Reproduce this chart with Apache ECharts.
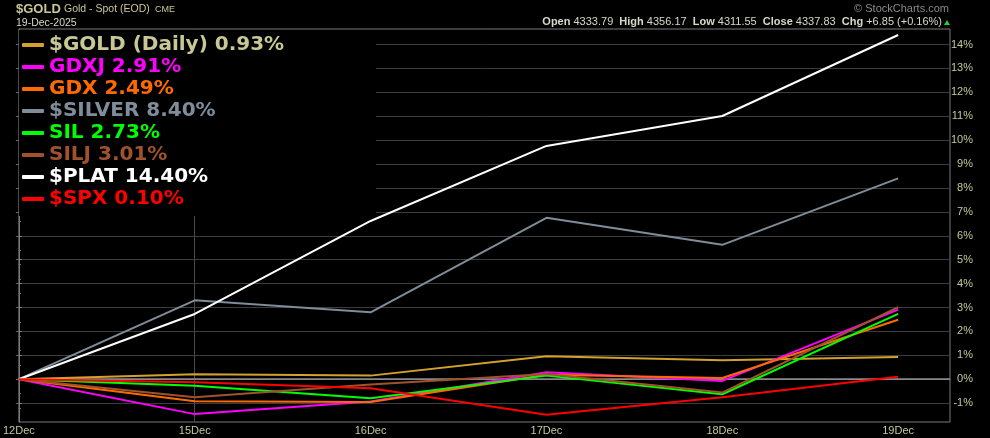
<!DOCTYPE html>
<html>
<head>
<meta charset="utf-8">
<script src="https://cdn.jsdelivr.net/npm/echarts@6/dist/echarts.min.js"></script>
<style>
html,body{margin:0;padding:0;background:#000;}
#chart{width:990px;height:438px;}
</style>
</head>
<body>
<div id="chart"></div>
<script>
const categories = ['12Dec','15Dec','16Dec','17Dec','18Dec','19Dec'];
const seriesNames = ['$GOLD (Daily)','GDXJ','GDX','$SILVER','SIL','SILJ','$PLAT','$SPX'];
const gold   = [0, 0.21, 0.15, 0.96, 0.79, 0.93];
const gdxj   = [0, -1.46, -0.93, 0.29, -0.07, 2.91];
const gdx    = [0, -0.92, -0.95, 0.19, 0.05, 2.49];
const silver = [0, 3.30, 2.80, 6.75, 5.62, 8.40];
const sil    = [0, -0.27, -0.80, 0.15, -0.63, 2.73];
const silj   = [0, -0.75, -0.22, 0.22, -0.56, 3.01];
const plat   = [0, 2.73, 6.62, 9.76, 11.01, 14.40];
const spx    = [0, -0.13, -0.38, -1.49, -0.75, 0.10];
const yTicks = [-1,0,1,2,3,4,5,6,7,8,9,10,11,12,13,14];
const ohlcLabels = ['Open','High','Low','Close','Chg'];
const ohlcValues = ['4333.79','4356.17','4311.55','4337.83','+6.85 (+0.16%)'];

const allData = [gold, gdxj, gdx, silver, sil, silj, plat, spx];
const lineColors = ['#d4a22c','#ff00ff','#ff6a00','#7f8c99','#00ff00','#a0522d','#ffffff','#ff0000'];
const textColors = ['#c8c896','#ff00ff','#ff6a00','#7f8c99','#00ff00','#a0522d','#ffffff','#ff0000'];
const khaki = '#c8c896';

const chart = echarts.init(document.getElementById('chart'), null, {renderer:'canvas'});

const series = seriesNames.map((name, i) => {
  const s = {
    name: name,
    type: 'line',
    data: allData[i].map((v, j) => [j, v]),
    symbol: 'none',
    lineStyle: {color: lineColors[i], width: 2},
    itemStyle: {color: lineColors[i]},
    z: 2,
    animation: false
  };
  if (i === 0) {
    s.markLine = {
      silent: true, symbol: 'none', animation: false, z: 1,
      label: {show: false},
      data: [
        {xAxis: 1, lineStyle: {color: '#4a4a4a', width: 1, type: 'solid'}},
        {yAxis: 0, lineStyle: {color: '#8a8a8a', width: 1.5, type: 'solid'}}
      ]
    };
  }
  return s;
});

let ohlcText = '';
const rich = {
  l: {fontFamily: 'Liberation Sans', fontSize: 11, fontWeight: 'bold', color: khaki},
  v: {fontFamily: 'Liberation Sans', fontSize: 11, color: '#d8d8c8'}
};
ohlcLabels.forEach((l, i) => {
  ohlcText += '{l|' + l + '} {v|' + ohlcValues[i] + '}' + (i < ohlcLabels.length - 1 ? '  ' : '');
});

const option = {
  backgroundColor: '#000',
  animation: false,
  grid: {left: 16, right: 40, top: 29, bottom: 16, show: true, borderColor: '#7a7a7a', borderWidth: 1, backgroundColor: 'transparent'},
  xAxis: {
    type: 'value', min: 0, max: 5.295,
    axisLine: {show: true, lineStyle: {color: '#8a8a8a'}},
    axisTick: {show: false, customValues: [0,1,2,3,4,5]},
    axisLabel: {customValues: [0,1,2,3,4,5], formatter: v => categories[Math.round(v)],
      color: khaki, fontFamily: 'Liberation Sans', fontSize: 11, margin: 3},
    splitLine: {show: false}
  },
  yAxis: [{
    type: 'value', position: 'right', min: -1.79, max: 14.65,
    axisLine: {show: true, lineStyle: {color: '#7a7a7a'}},
    axisTick: {show: true, length: 3, customValues: yTicks, lineStyle: {color: '#8a8a8a'}},
    minorTick: {show: true, splitNumber: 5, length: 2, lineStyle: {color: '#7a7a7a'}},
    axisLabel: {customValues: yTicks, formatter: v => v + '%', color: khaki,
      fontFamily: 'Liberation Sans', fontSize: 11, align: 'right', margin: 23},
    splitLine: {show: true, lineStyle: {color: '#3c3c3c', width: 1}}
  }, {
    type: 'value', position: 'left', min: -1.79, max: 14.65,
    axisLine: {show: true, lineStyle: {color: '#7a7a7a'}},
    axisTick: {show: true, length: 3, customValues: yTicks, lineStyle: {color: '#6a6a6a'}},
    axisLabel: {show: false},
    splitLine: {show: false}
  }],
  legend: {
    orient: 'vertical', left: 22, top: 34, padding: 0,
    itemWidth: 22, itemHeight: 4, itemGap: 0, icon: 'roundRect',
    selectedMode: false, z: 10,
    textStyle: {fontFamily: 'DejaVu Sans', fontSize: 20, fontWeight: 'bold', lineHeight: 22},
    data: seriesNames.map((n, i) => ({name: n, textStyle: {color: textColors[i]}, itemStyle: {color: lineColors[i]}})),
    formatter: name => {
      const i = seriesNames.indexOf(name);
      const d = allData[i];
      return name + ' ' + d[d.length - 1].toFixed(2) + '%';
    }
  },
  graphic: [
    {type: 'rect', z: 6, silent: true, shape: {x: 19, y: 30, width: 357, height: 186}, style: {fill: '#000'}},
    {type: 'text', x: 16, y: 9, style: {text: '$GOLD', font: 'bold 13px "Liberation Sans"', fill: khaki, verticalAlign: 'middle'}},
    {type: 'text', x: 64, y: 9, style: {text: 'Gold - Spot (EOD)', font: '10.5px "Liberation Sans"', fill: khaki, verticalAlign: 'middle'}},
    {type: 'text', x: 155, y: 10, style: {text: 'CME', font: '9px "Liberation Sans"', fill: khaki, verticalAlign: 'middle'}},
    {type: 'text', x: 16, y: 23, style: {text: '19-Dec-2025', font: '10.5px "Liberation Sans"', fill: '#d8d8c8', verticalAlign: 'middle'}},
    {type: 'text', x: 949, y: 9, style: {text: '© StockCharts.com', font: '11px "Liberation Sans"', fill: '#8a8a8a', align: 'right', verticalAlign: 'middle'}},
    {type: 'text', x: 942, y: 22, style: {text: ohlcText, rich: rich, align: 'right', verticalAlign: 'middle', font: '11px "Liberation Sans"', fill: '#d8d8c8'}},
    {type: 'polygon', shape: {points: [[944, 25], [950, 25], [947, 20]]}, style: {fill: '#22cc44'}}
  ],
  series: series
};
chart.setOption(option);
</script>
</body>
</html>
